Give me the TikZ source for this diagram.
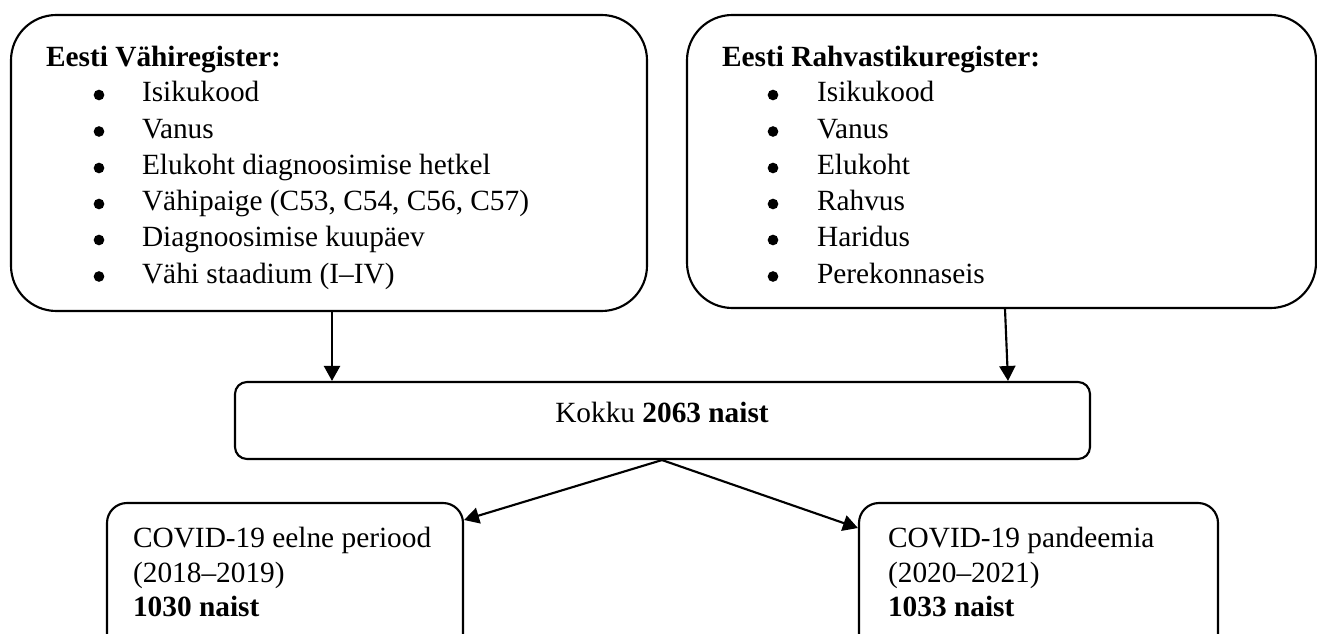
\documentclass[tikz,border=0pt]{standalone}
\usepackage{fontspec}
\setmainfont{Liberation Serif}
\usetikzlibrary{arrows.meta,fit}

\tikzset{
  bigbox/.style={draw, rounded corners=17pt, inner sep=0pt},
  midbox/.style={draw, rounded corners=4.5pt, inner sep=0pt},
  smallbox/.style={draw, rounded corners=7.5pt, inner sep=0pt},
  txt/.style={anchor=base west, inner sep=0pt, font=\fontsize{11}{13}\selectfont},
  ctxt/.style={anchor=base, inner sep=0pt, font=\fontsize{11}{13}\selectfont},
  dot/.style={circle, fill, inner sep=0pt, minimum size=4pt}
}

\begin{document}
\begin{tikzpicture}[x=0.375pt, y=-0.375pt, line width=0.8pt,
  >={Triangle[length=5.6pt,width=6pt]}]
  \useasboundingbox (0,0) rectangle (1317,634);

  %register boxes
  \node[bigbox, fit={(11,15) (647,311)}] (vreg) {};
  \node[bigbox, fit={(687,15) (1316,308)}] (rreg) {};
  %total box
  \node[midbox, fit={(235,382) (1090,459)}] (kokku) {};
  %period boxes
  \node[smallbox, fit={(107,503) (463,660)}] (eelne) {};
  \node[smallbox, fit={(859,503) (1218,660)}] (pand) {};

  %arrows
  \draw[->] (vreg.south -| 332,0) -- (kokku.north -| 332,0);
  \draw[->] (rreg.south -| 1005,0) -- (kokku.north -| 1008,0);
  \draw[->] (kokku.south -| 662,0) -- (eelne.east |- 0,520);
  \draw[->] (kokku.south -| 662,0) -- (pand.west |- 0,528);

  %text in cancer registry
  \node[txt] (v0) at (45,67) {\textbf{Eesti Vähiregister:}};
  \node[dot] (vb1) at (99,95) {};
  \node[txt] (v1) at (141,102) {Isikukood};
  \node[dot] (vb2) at (99,131.5) {};
  \node[txt] (v2) at (141,138.5) {Vanus};
  \node[dot] (vb3) at (99,168) {};
  \node[txt] (v3) at (141,175) {Elukoht diagnoosimise hetkel};
  \node[dot] (vb4) at (99,204) {};
  \node[txt] (v4) at (141,211) {Vähipaige (C53, C54, C56, C57)};
  \node[dot] (vb5) at (99,240) {};
  \node[txt] (v5) at (141,247) {Diagnoosimise kuupäev};
  \node[dot] (vb6) at (99,276.5) {};
  \node[txt] (v6) at (141,283.5) {Vähi staadium (I–IV)};

  %text in population registry
  \node[txt] (r0) at (721,67) {\textbf{Eesti Rahvastikuregister:}};
  \node[dot] (rb1) at (773,95) {};
  \node[txt] (r1) at (816,102) {Isikukood};
  \node[dot] (rb2) at (773,131.5) {};
  \node[txt] (r2) at (816,138.5) {Vanus};
  \node[dot] (rb3) at (773,168) {};
  \node[txt] (r3) at (816,175) {Elukoht};
  \node[dot] (rb4) at (773,204) {};
  \node[txt] (r4) at (816,211) {Rahvus};
  \node[dot] (rb5) at (773,240) {};
  \node[txt] (r5) at (816,247) {Haridus};
  \node[dot] (rb6) at (773,276.5) {};
  \node[txt] (r6) at (816,283.5) {Perekonnaseis};

  %text in total box
  \node[ctxt] (ktxt) at (662,423) {Kokku \textbf{2063 naist}};

  %text in period boxes
  \node[txt] (e1) at (132,547) {COVID-19 eelne periood};
  \node[txt] (e2) at (132,582) {(2018–2019)};
  \node[txt] (e3) at (132,616) {\textbf{1030 naist}};
  \node[txt] (p1) at (887,547) {COVID-19 pandeemia};
  \node[txt] (p2) at (887,582) {(2020–2021)};
  \node[txt] (p3) at (887,616) {\textbf{1033 naist}};
\end{tikzpicture}
\end{document}
